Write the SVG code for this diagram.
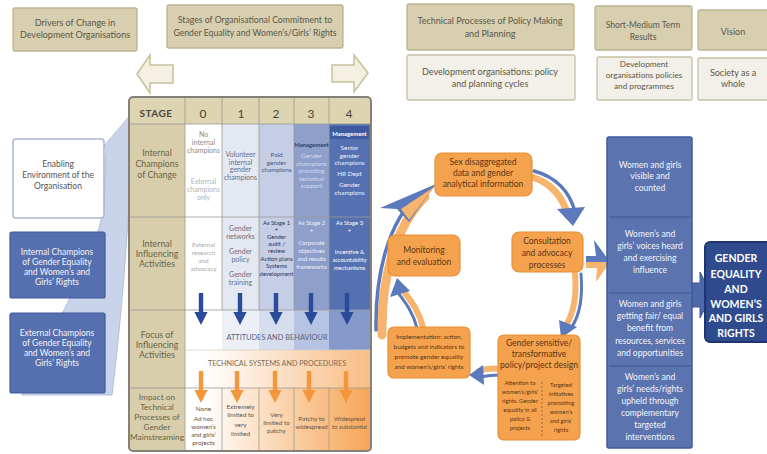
<svg xmlns="http://www.w3.org/2000/svg" width="767" height="454" viewBox="0 0 767 454">
<style>
text{font-family:Lato,"Liberation Sans",sans-serif;text-anchor:middle}
.hb{fill:#d7cfb0;stroke:#bdb491;stroke-width:1.3}
.lb{fill:#f2f0e8;stroke:#c7c1a7;stroke-width:1.3}
.ht{font-size:9px;fill:#5b5749}
.cb{fill:#f5a24e;stroke:#e88f35;stroke-width:1.2}
.ct{font-size:8.5px;fill:#5a3512}
.rt{font-size:8.5px;fill:#f2f4fa}
.lab{font-size:8.8px;fill:#6a6448}
.s7{font-size:7px}
.s65{font-size:6.4px}
.s6{font-size:5.9px}
.grid{stroke:#9b9b95;stroke-width:0.8;fill:none}
.ua{fill:#f4f1e2;stroke:#c9c09e;stroke-width:1.5}
.bl{fill:#5b79bb}
.ob{fill:none;stroke:#f6b46f;stroke-linecap:round}
.bb{fill:none;stroke:#5b79bb;stroke-linecap:round}
</style>
<defs>
<path id="da" d="M-2.2,0 h4.4 v19 h4.4 l-6.6,13 l-6.6,-13 h4.4 z"/>
<linearGradient id="og1" x1="185" y1="0" x2="370" y2="0" gradientUnits="userSpaceOnUse"><stop offset="0.1" stop-color="#ffffff"/><stop offset="1" stop-color="#f6a557"/></linearGradient>
<linearGradient id="og2" x1="185" y1="0" x2="370" y2="0" gradientUnits="userSpaceOnUse"><stop offset="0.1" stop-color="#ffffff"/><stop offset="1" stop-color="#f8bd84"/></linearGradient>
</defs>

<!-- header boxes -->
<g id="h-drivers"><rect class="hb" x="13" y="8" width="124" height="43" rx="2"/><text class="ht" x="75" y="26">Drivers of Change in</text><text class="ht" x="75" y="38">Development Organisations</text></g>
<g id="h-stages"><rect class="hb" x="167" y="5" width="176" height="43" rx="2"/><text class="ht" x="255" y="23" style="font-size:8.7px">Stages of Organisational Commitment to</text><text class="ht" x="255" y="36" style="font-size:8.7px">Gender Equality and Women’s/Girls’ Rights</text></g>
<g id="h-tech"><rect class="hb" x="407" y="4" width="167" height="46" rx="2"/><text class="ht" x="490" y="24">Technical Processes of Policy Making</text><text class="ht" x="490" y="37">and Planning</text></g>
<g id="h-dev"><rect class="lb" x="407" y="55" width="168" height="45" rx="2"/><text class="ht" x="490" y="75">Development organisations: policy</text><text class="ht" x="490" y="87">and planning cycles</text></g>
<g id="h-short"><rect class="hb" x="595" y="6" width="97" height="44" rx="2"/><text class="ht" x="643" y="28" style="font-size:8.5px">Short-Medium Term</text><text class="ht" x="643" y="40" style="font-size:8.5px">Results</text></g>
<g id="h-devpol"><rect class="lb" x="597" y="57" width="95" height="43" rx="2"/><text class="ht" x="644" y="67" style="font-size:8.2px">Development</text><text class="ht" x="644" y="78" style="font-size:8.2px">organisations policies</text><text class="ht" x="644" y="89" style="font-size:8.2px">and programmes</text></g>
<g id="h-vision"><rect class="hb" x="698" y="10" width="75" height="40" rx="2"/><text class="ht" x="733" y="35">Vision</text></g>
<g id="h-society"><rect class="lb" x="698" y="58" width="75" height="42" rx="2"/><text class="ht" x="733" y="76">Society as a</text><text class="ht" x="733" y="87">whole</text></g>

<!-- connectors -->
<g id="connectors">
<polygon class="ua" points="137,74 150,55 150,65 173,65 173,83 150,83 150,93"/>
<polygon class="ua" points="368,73 354,55 354,65 332,65 332,82 354,82 354,92"/>
<path d="M22,395 C50,330 96,262 104,205 L106,150 L104,146 L133,112 L131,165 C127,250 120,330 112,395 Z" fill="#c9d4ea" stroke="#b3c0dc" stroke-width="1"/>
<!-- circle arrows -->
<path class="ob" stroke-width="9" d="M382,335 C381,276 396,226 425,197"/>
<path class="bb" stroke-width="3.5" d="M376,330 C375,272 389,222 418,194"/>
<polygon class="bl" points="436,184 380,208 397,209 409,222"/>
<polygon points="434,187 401,209 409,220" fill="#f6b46f"/>
<path class="ob" stroke-width="7" d="M532,177 C551,183 563,197 568,216"/>
<path class="bb" stroke-width="3.5" d="M534,171 C556,177 570,192 575,212"/>
<polygon class="bl" points="573,226 557,209 585,207"/>
<path class="ob" stroke-width="6" d="M575,274 C577,297 573,314 566,325"/>
<path class="bb" stroke-width="3" d="M581,274 C583,299 579,317 571,328"/>
<polygon class="bl" points="561,338 559,320 577,327"/>
<path class="ob" stroke-width="6" d="M500,369 C491,368 484,369 479,371"/>
<path class="bb" stroke-width="3" d="M500,375 C491,375 485,376 480,377"/>
<polygon class="bl" points="469,375 483,365 484,385"/>
<path class="ob" stroke-width="6" d="M423,327 C419,311 411,301 405,293"/>
<path class="bb" stroke-width="3" d="M417,328 C413,312 405,302 399,294"/>
<polygon class="bl" points="397,278 390,297 410,291"/>
<polygon class="bl" points="586,256 596,256 594,240 610,262 586,262"/>
<polygon points="586,262 610,262 596,282 597,268 586,268" fill="#f6b46f"/>
<polygon points="692,283 700,283 700,272 712,295 700,318 700,307 692,307" fill="#4d69a9" stroke="#3a5394" stroke-width="1"/>
</g>

<!-- left boxes -->
<g id="n-enabling"><rect x="13" y="139" width="91" height="79" rx="3" fill="#ffffff" stroke="#a9b6d2" stroke-width="1.5"/><text x="58" y="167" style="font-size:8.5px;fill:#555">Enabling</text><text x="58" y="178" style="font-size:8.5px;fill:#555">Environment of the</text><text x="58" y="189" style="font-size:8.5px;fill:#555">Organisation</text></g>
<g id="n-internal"><rect x="10" y="232" width="95" height="66" rx="2" fill="#566fae" stroke="#41599a" stroke-width="1.2"/><text class="rt" x="57" y="255">Internal Champions</text><text class="rt" x="57" y="265">of Gender Equality</text><text class="rt" x="57" y="275">and Women’s and</text><text class="rt" x="57" y="285">Girls’ Rights</text></g>
<g id="n-external"><rect x="10" y="313" width="95" height="80" rx="2" fill="#566fae" stroke="#41599a" stroke-width="1.2"/><text class="rt" x="57" y="336">External Champions</text><text class="rt" x="57" y="346">of Gender Equality</text><text class="rt" x="57" y="356">and Women’s and</text><text class="rt" x="57" y="366">Girls’ Rights</text></g>

<!-- table -->
<g id="table">
<rect x="129" y="97" width="242" height="354" rx="4" fill="#ddd4b2"/>
<rect x="130" y="124" width="55" height="326" fill="#d8ceab"/>
<rect x="185" y="124" width="37" height="186" fill="#ffffff"/>
<rect x="222" y="124" width="37" height="186" fill="#e4e8f2"/>
<rect x="259" y="124" width="35" height="186" fill="#c5cee4"/>
<rect x="294" y="124" width="35" height="186" fill="#8e9fcc"/>
<rect x="329" y="124" width="41" height="186" fill="#5571b1"/>
<rect x="330" y="126" width="39" height="13" fill="#3e5ba1"/>
<rect x="185" y="310" width="37" height="40" fill="#ffffff"/>
<rect x="222" y="310" width="37" height="40" fill="#eceff6"/>
<rect x="259" y="310" width="35" height="40" fill="#d6ddee"/>
<rect x="294" y="310" width="35" height="40" fill="#b7c3e2"/>
<rect x="329" y="310" width="41" height="40" fill="#8599cb"/>
<rect x="185" y="350" width="185" height="38" fill="url(#og2)"/>
<rect x="185" y="388" width="185" height="62" fill="url(#og1)"/>
<path class="grid" d="M130,124 H370 M130,217 H370 M130,310 H370 M130,388 H370 M185,124 V450 M222,124 V310 M259,98 V310 M294,98 V310 M329,98 V310 M222,388 V450 M259,388 V450 M294,388 V450 M329,388 V450 M222,98 V124 M185,98 V124"/>
<path d="M185,350 H370" stroke="#d9cfc2" stroke-width="0.8"/>
<rect x="129" y="97" width="242" height="354" rx="4" fill="none" stroke="#85817a" stroke-width="2"/>
<g style="font-family:'DejaVu Sans',sans-serif;font-size:12px;fill:#4a463a">
<text x="156" y="117" style="font-size:10px;font-weight:bold;letter-spacing:0.5px">STAGE</text>
<text x="203" y="118">0</text><text x="241" y="118">1</text><text x="276" y="118">2</text><text x="311" y="118">3</text><text x="349" y="118">4</text>
</g>
<g class="lab"><text class="lab" x="157" y="156">Internal</text><text class="lab" x="157" y="167">Champions</text><text class="lab" x="157" y="178">of Change</text>
<text class="lab" x="157" y="247">Internal</text><text class="lab" x="157" y="257">Influencing</text><text class="lab" x="157" y="267">Activities</text>
<text class="lab" x="157" y="338">Focus of</text><text class="lab" x="157" y="348">Influencing</text><text class="lab" x="157" y="358">Activities</text>
<text class="lab" x="157" y="400" style="font-size:8.3px">Impact on</text><text class="lab" x="157" y="410" style="font-size:8.3px">Technical</text><text class="lab" x="157" y="420" style="font-size:8.3px">Processes of</text><text class="lab" x="157" y="430" style="font-size:8.3px">Gender</text><text class="lab" x="157" y="440" style="font-size:8.3px">Mainstreaming</text></g>
<g class="s7" style="fill:#8a8a8a"><text x="203.5" y="137">No</text><text x="203.5" y="145">internal</text><text x="203.5" y="153">champions</text></g>
<g class="s7" style="fill:#b2b2b2"><text x="203.5" y="184">External</text><text x="203.5" y="192">champions</text><text x="203.5" y="200">only</text></g>
<g class="s7" style="fill:#6b6f80"><text x="240.5" y="157">Volunteer</text><text x="240.5" y="164.5">internal</text><text x="240.5" y="172">gender</text><text x="240.5" y="179.5">champions</text></g>
<g class="s65" style="fill:#4e5878"><text x="276.5" y="157">Paid</text><text x="276.5" y="164.5">gender</text><text x="276.5" y="172">champions</text></g>
<text x="311.5" y="147" class="s6" style="fill:#2f4068;font-weight:bold">Management</text>
<g class="s65" style="fill:#d5dcee"><text x="311.5" y="158">Gender</text><text x="311.5" y="165.5">champions</text><text x="311.5" y="173">providing</text><text x="311.5" y="180.5">technical</text><text x="311.5" y="188">support</text></g>
<text x="349.5" y="135.5" class="s6" style="fill:#fff;font-weight:bold">Management</text>
<g class="s65" style="fill:#eef1fa"><text x="349.5" y="150">Senior</text><text x="349.5" y="157.5">gender</text><text x="349.5" y="165">champions</text><text x="349.5" y="176">HR Dept</text><text x="349.5" y="187">Gender</text><text x="349.5" y="194.5">champions</text></g>
<g class="s65" style="fill:#a9a9a9"><text x="203.5" y="247">External</text><text x="203.5" y="255">research</text><text x="203.5" y="263">and</text><text x="203.5" y="271">advocacy</text></g>
<g class="s7" style="fill:#6b6f80"><text x="240.5" y="231">Gender</text><text x="240.5" y="239">networks</text><text x="240.5" y="254">Gender</text><text x="240.5" y="262">policy</text><text x="240.5" y="277">Gender</text><text x="240.5" y="285">training</text></g>
<g class="s6" style="fill:#2a3458"><text x="276.5" y="225">As Stage 1</text><text x="276.5" y="232">+</text><text x="276.5" y="239">Gender</text><text x="276.5" y="246">audit /</text><text x="276.5" y="253">review</text><text x="276.5" y="260.5">Action plans</text><text x="276.5" y="268">Systems</text><text x="276.5" y="275.5">development</text></g>
<g class="s6" style="fill:#eef1f8"><text x="311.5" y="225">As Stage 2</text><text x="311.5" y="233">+</text><text x="311.5" y="245">Corporate</text><text x="311.5" y="253">objectives</text><text x="311.5" y="261">and results</text><text x="311.5" y="269">frameworks</text></g>
<g class="s6" style="fill:#ffffff"><text x="349.5" y="225">As Stage 3</text><text x="349.5" y="233">+</text><text x="349.5" y="254">Incentive &amp;</text><text x="349.5" y="262" style="font-size:5.6px">accountability</text><text x="349.5" y="270">mechanisms</text></g>
<g fill="#2a4a9a"><use href="#da" x="201" y="293"/><use href="#da" x="240" y="293"/><use href="#da" x="276" y="293"/><use href="#da" x="311" y="293"/><use href="#da" x="347" y="293"/></g>
<text x="277" y="340" style="font-size:7.4px;fill:#5b6480">ATTITUDES AND BEHAVIOUR</text>
<text x="277" y="366" style="font-size:7.2px;fill:#7b6a58">TECHNICAL SYSTEMS AND PROCEDURES</text>
<g fill="#f3973a"><use href="#da" x="201" y="371"/><use href="#da" x="237" y="371"/><use href="#da" x="275" y="371"/><use href="#da" x="309" y="371"/><use href="#da" x="346" y="371"/></g>
<g class="s65" style="fill:#5e5448"><text x="203.5" y="411">None</text><text x="203.5" y="421">Ad hoc</text><text x="203.5" y="429">women’s</text><text x="203.5" y="437">and girls’</text><text x="203.5" y="445">projects</text>
<text x="240.5" y="409">Extremely</text><text x="240.5" y="417">limited to</text><text x="240.5" y="427">very</text><text x="240.5" y="436">limited</text>
<text x="276.5" y="417">Very</text><text x="276.5" y="425">limited to</text><text x="276.5" y="433">patchy</text>
<text x="311.5" y="421">Patchy to</text><text x="311.5" y="429">widespread</text>
<text x="349.5" y="421" class="s6">Widespread</text><text x="349.5" y="429" class="s6">to substantial</text></g>
</g>

<!-- policy cycle -->
<g id="n-sexdata"><rect class="cb" x="435" y="153" width="97" height="43" rx="7"/><text class="ct" x="483" y="165">Sex disaggregated</text><text class="ct" x="483" y="176">data and gender</text><text class="ct" x="483" y="187">analytical information</text></g>
<g id="n-monitoring"><rect class="cb" x="388" y="235" width="72" height="41" rx="7"/><text class="ct" x="424" y="253">Monitoring</text><text class="ct" x="424" y="265">and evaluation</text></g>
<g id="n-consultation"><rect class="cb" x="512" y="232" width="71" height="40" rx="7"/><text class="ct" x="547" y="244">Consultation</text><text class="ct" x="547" y="256">and advocacy</text><text class="ct" x="547" y="268">processes</text></g>
<g id="n-implementation"><rect class="cb" x="388" y="327" width="82" height="51" rx="6"/><g class="ct" style="font-size:6.4px"><text x="429" y="339">Implementation: action,</text><text x="429" y="349">budgets and indicators to</text><text x="429" y="359">promote gender equality</text><text x="429" y="369">and women’s/girls’ rights</text></g></g>
<g id="n-design"><rect class="cb" x="498" y="335" width="82" height="105" rx="6"/><text class="ct" x="539" y="346">Gender sensitive/</text><text class="ct" x="539" y="357">transformative</text><text class="ct" x="539" y="368">policy/project design</text>
<path d="M542,382 V436" stroke="#8a5a2a" stroke-width="0.8" stroke-dasharray="2,2"/>
<g class="ct" style="font-size:5.8px"><text x="520" y="385">Attention to</text><text x="520" y="394">women’s/girls’</text><text x="520" y="403">rights. Gender</text><text x="520" y="412">equality in all</text><text x="520" y="421">policy &amp;</text><text x="520" y="430">projects</text>
<text x="561" y="387">Targeted</text><text x="561" y="396">initiatives</text><text x="561" y="405">promoting</text><text x="561" y="414">women’s</text><text x="561" y="423">and girls’</text><text x="561" y="432">rights</text></g></g>

<!-- results column -->
<g id="n-results"><rect x="607" y="137" width="85" height="311" rx="2" fill="#5b74b0" stroke="#41599a" stroke-width="1.5"/>
<path d="M609,217 H690 M609,293 H690 M609,366 H690" stroke="#3f5595" stroke-width="1"/>
<text class="rt" x="650" y="168">Women and girls</text><text class="rt" x="650" y="179">visible and</text><text class="rt" x="650" y="191">counted</text>
<text class="rt" x="650" y="237">Women’s and</text><text class="rt" x="650" y="249">girls’ voices heard</text><text class="rt" x="650" y="261">and exercising</text><text class="rt" x="650" y="273">influence</text>
<text class="rt" x="650" y="307">Women and girls</text><text class="rt" x="650" y="319">getting fair/ equal</text><text class="rt" x="650" y="331">benefit from</text><text class="rt" x="650" y="344">resources, services</text><text class="rt" x="650" y="356">and opportunities</text>
<text class="rt" x="650" y="380">Women’s and</text><text class="rt" x="650" y="392">girls’ needs/rights</text><text class="rt" x="650" y="404">upheld through</text><text class="rt" x="650" y="416">complementary</text><text class="rt" x="650" y="428">targeted</text><text class="rt" x="650" y="440">interventions</text></g>

<g id="n-goal"><rect x="705" y="242" width="72" height="100" rx="5" fill="#2f4b8d" stroke="#1f3572" stroke-width="2"/>
<g style="font-size:10.5px;font-weight:bold;fill:#ffffff"><text x="736" y="262">GENDER</text><text x="736" y="278">EQUALITY</text><text x="736" y="293">AND</text><text x="736" y="308">WOMEN’S</text><text x="736" y="322">AND GIRLS</text><text x="736" y="337">RIGHTS</text></g></g>
</svg>
